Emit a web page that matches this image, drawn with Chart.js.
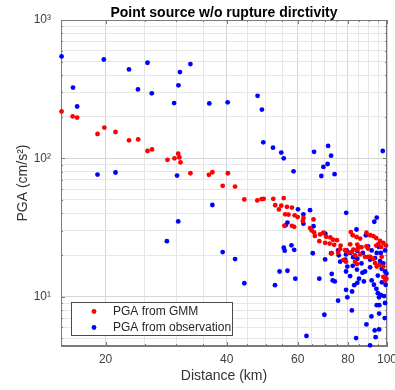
<!DOCTYPE html>
<html>
<head>
<meta charset="utf-8">
<script src="https://cdn.jsdelivr.net/npm/chart.js@4.4.1/dist/chart.umd.min.js"></script>
<style>
  html, body { margin: 0; padding: 0; background: #ffffff; }
  canvas { display: block; }
</style>
</head>
<body>
<canvas id="pga" width="395" height="390"></canvas>
<script>
// PGA predicted by the ground-motion model (GMM)
const gmmDistance = [15.55, 16.57, 17.0, 19.1, 19.86, 21.17, 22.87, 24.1, 25.42, 26.08,
  28.5, 29.66, 30.3, 30.5, 30.69, 32.49, 36.11, 36.84, 40.25, 39.07,
  41.94, 44.22, 47.63, 48.8, 49.4, 52.19, 55.4, 52.78, 54.62, 56.42,
  58.05, 53.9, 55.88, 56.94, 58.98, 60.0, 62.02, 55.6, 58.05, 58.82,
  65.7, 64.4, 65.0, 65.9, 68.23, 70.6, 72.3, 73.4, 75.1, 70.2,
  72.0, 73.9, 76.7, 67.9, 76.47, 78.7, 80.2, 81.0, 82.5, 81.3,
  82.2, 84.0, 85.75, 84.4, 86.4, 88.9, 84.9, 89.7, 81.8, 83.3,
  84.2, 85.75, 88.9, 90.8, 92.5, 94.0, 96.1, 97.9, 99.4, 94.0,
  96.7, 88.2, 89.7, 92.5, 93.4, 95.7, 97.9, 97.0, 94.3, 83.3,
  84.2, 77.9, 79.1, 98.9, 97.9, 99.6, 75.6, 72.9, 66.2, 69.5,
  61.8, 90.8, 95.2];
const gmmPGA = [218, 201, 197, 150, 167, 155, 135, 137, 113, 116,
  97.5, 100, 108, 101.5, 93.6, 78, 76, 79.3, 78, 63.3,
  62.5, 50.5, 49.6, 50.8, 51, 51, 51.6, 45.8, 45.5, 44.6,
  44.1, 42.7, 39.4, 39.2, 38.7, 37.6, 37.1, 32.5, 32.5, 32.0,
  36.2, 31.3, 30.1, 29.2, 28.2, 27.1, 26.8, 25.8, 25.6, 24.5,
  24.2, 23.7, 23.4, 25.2, 22.1, 21.7, 20.8, 23.9, 21.9, 29.3,
  27.8, 27.0, 26.3, 23.8, 22.8, 23.1, 22.7, 22.3, 21.0, 19.9,
  21.8, 20.2, 29.0, 27.8, 27.4, 26.5, 25.3, 24.5, 23.4, 23.4,
  22.9, 19.4, 19.4, 18.8, 17.5, 17.0, 16.5, 19.4, 16.5, 17.9,
  17.2, 18.4, 17.9, 13.1, 13.9, 13.5, 20.8, 20.6, 27.5, 29.0,
  35.3, 19.4, 24.0];

// PGA recorded at the stations
const obsDistance = [15.55, 19.8, 22.87, 25.42, 32.49, 30.6, 16.6, 24.07, 26.05, 30.34,
  17.0, 29.6, 36.2, 40.2, 47.7, 48.9, 19.1, 21.17, 30.1, 36.84,
  30.3, 28.4, 39.07, 41.94, 44.22, 49.29, 52.1, 54.62, 55.4, 58.6,
  65.9, 71.4, 72.64, 71.2, 69.52, 68.7, 74.1, 97.6, 60.1, 62.0,
  64.4, 62.0, 56.6, 56.0, 65.7, 79.2, 94.3, 93.0, 84.0, 88.6,
  70.3, 55.4, 55.7, 57.9, 58.82, 65.4, 70.21, 72.64, 75.6, 79.4,
  81.0, 84.4, 87.1, 89.7, 91.6, 94.3, 98.9, 75.9, 79.1, 78.7,
  82.4, 84.4, 90.8, 96.1, 97.9, 86.4, 76.5, 54.1, 56.6, 59.2,
  67.9, 72.9, 73.3, 79.14, 81.0, 84.2, 88.2, 91.6, 94.9, 98.9,
  99.4, 79.7, 90.8, 52.7, 63.1, 69.9, 75.6, 79.14, 79.7, 81.9,
  81.8, 82.9, 84.4, 83.8, 88.9, 90.8, 91.5, 93.2, 93.7, 95.6,
  95.6, 98.7, 92.8, 94.1, 94.9, 95.55, 96.5, 98.3, 94.3, 95.7,
  98.9, 99.2, 97.1, 74.2, 87.6, 82.2, 86.9, 85.2, 99.7, 97.0,
  95.5, 96.5, 93.4];
const obsPGA = [545, 518, 439, 491, 480, 420, 325, 315, 295, 337,
  237, 251, 249.5, 254, 283, 225, 76.3, 79, 75, 46,
  35, 25.2, 21, 18.7, 12.5, 130.5, 119.5, 110, 100, 80.6,
  111.5, 123, 104.5, 91, 86.7, 74.5, 76.8, 113, 42.8, 39.4,
  42.2, 33.7, 34.3, 32.8, 32.3, 40.4, 37.3, 34.8, 30.6, 27.8,
  28.5, 22.6, 21.5, 23.5, 21.8, 20.6, 18.6, 20.6, 21.6, 21.6,
  20.7, 21.4, 20.7, 23.1, 21.6, 20.7, 21.6, 19.9, 20.2, 18.5,
  19.3, 18.8, 18.5, 18.1, 17.4, 17.4, 17.9, 15.2, 15.4, 13.5,
  13.5, 14.6, 13.1, 15.2, 14.1, 15.7, 15.2, 13.1, 14.2, 15.2,
  13.5, 16.5, 16.3, 12.1, 5.2, 7.4, 9.36, 11.2, 9.9, 10.9,
  7.95, 12.1, 12.6, 5.02, 6.3, 4.45, 7.2, 5.7, 5.1, 5.8,
  7.55, 7.0, 12.2, 11.4, 10.6, 9.9, 10.3, 10.1, 8.68, 8.68,
  9.0, 12.2, 12.7, 12.9, 12.9, 16.7, 14.9, 13.5, 14.7, 15.9,
  22.9, 20.7, 19.0];

// Axis grid positions and the values that carry a label
const distanceGrid = [20, 25, 30, 35, 40, 45, 50, 55, 60, 65, 70, 75, 80, 85, 90, 95, 100];
const distanceTickLabels = [20, 40, 60, 80, 100];
const pgaGrid = [5, 6, 7, 8, 9, 10, 20, 30, 40, 50, 60, 70, 80, 90,
  100, 200, 300, 400, 500, 600, 700, 800, 900, 1000];
const pgaTickValues = [10, 100, 1000];
const pgaTickLabels = ['10\u00B9', '10\u00B2', '10\u00B3'];

const seriesNames = ['PGA from GMM', 'PGA from observation'];
const chartTitle = 'Point source w/o rupture dirctivity';

const FONT = "'Liberation Sans', Arial, Helvetica, sans-serif";
const RED = '#ff0000';
const BLUE = '#0000ff';
const AXIS = '#7a7a7a';

function toPoints(xs, ys) {
  return xs.map((x, i) => ({ x: x, y: ys[i] }));
}

function gridColour(ctx, majors) {
  const v = ctx.tick ? ctx.tick.value : null;
  return majors.includes(v) ? '#d6d6d6' : '#e6e6e6';
}

// White page, title, full axis box, inward tick marks and the legend box
const framePlugin = {
  id: 'frame',
  beforeDraw(chart) {
    const c = chart.ctx;
    c.save();
    c.fillStyle = '#ffffff';
    c.fillRect(0, 0, chart.width, chart.height);
    c.restore();
  },
  beforeDatasetsDraw(chart) {
    const c = chart.ctx;
    const a = chart.chartArea;
    const xs = chart.scales.x;
    const ys = chart.scales.y;
    c.save();
    c.strokeStyle = AXIS;
    c.lineWidth = 1;
    c.strokeRect(a.left + 0.5, a.top + 0.5, a.right - a.left - 1, a.bottom - a.top - 1);
    c.beginPath();
    distanceGrid.forEach(v => {
      const px = Math.round(xs.getPixelForValue(v)) + 0.5;
      const len = distanceTickLabels.includes(v) ? 4 : 2;
      c.moveTo(px, a.bottom); c.lineTo(px, a.bottom - len);
      c.moveTo(px, a.top); c.lineTo(px, a.top + len);
    });
    pgaGrid.forEach(v => {
      const py = Math.round(ys.getPixelForValue(v)) + 0.5;
      const len = pgaTickValues.includes(v) ? 4 : 2;
      c.moveTo(a.left, py); c.lineTo(a.left + len, py);
      c.moveTo(a.right, py); c.lineTo(a.right - len, py);
    });
    c.stroke();
    c.restore();
  },
  afterDraw(chart) {
    const c = chart.ctx;
    const a = chart.chartArea;
    c.save();
    // title
    c.fillStyle = '#000000';
    c.font = 'bold 14px ' + FONT;
    c.textAlign = 'center';
    c.textBaseline = 'alphabetic';
    c.fillText(chartTitle, (a.left + a.right) / 2, 16.5);

    // legend
    const lx = a.left + 10, ly = a.bottom - 44, lw = 161, lh = 33;
    c.fillStyle = '#ffffff';
    c.fillRect(lx, ly, lw, lh);
    c.strokeStyle = '#4a4a4a';
    c.lineWidth = 1;
    c.strokeRect(lx + 0.5, ly + 0.5, lw, lh);
    const colours = [RED, BLUE];
    c.font = '12px ' + FONT;
    c.textAlign = 'left';
    c.textBaseline = 'middle';
    seriesNames.forEach((name, i) => {
      const cy = ly + 9.5 + i * 16;
      c.fillStyle = colours[i];
      c.beginPath();
      c.arc(lx + 23, cy, 2.4, 0, Math.PI * 2);
      c.fill();
      c.fillStyle = '#262626';
      c.fillText(name, lx + 42, cy + 0.5);
    });
    c.restore();
  }
};

new Chart(document.getElementById('pga'), {
  type: 'scatter',
  data: {
    datasets: [
      {
        label: seriesNames[0],
        data: toPoints(gmmDistance, gmmPGA),
        backgroundColor: RED,
        borderWidth: 0,
        pointRadius: 2.4,
        pointHoverRadius: 2.4,
        clip: false
      },
      {
        label: seriesNames[1],
        data: toPoints(obsDistance, obsPGA),
        backgroundColor: BLUE,
        borderWidth: 0,
        pointRadius: 2.4,
        pointHoverRadius: 2.4,
        clip: false
      }
    ]
  },
  options: {
    responsive: false,
    animation: false,
    devicePixelRatio: 1,
    layout: { padding: { top: 20, right: 8, left: 0, bottom: 0 } },
    plugins: {
      legend: { display: false },
      tooltip: { enabled: false },
      title: { display: false }
    },
    scales: {
      x: {
        type: 'logarithmic',
        min: 15.5,
        max: 100,
        afterBuildTicks(scale) {
          scale.ticks = distanceGrid.map(v => ({ value: v }));
        },
        afterFit(scale) {
          scale.height = 44;
          scale.paddingLeft = 0;
          scale.paddingRight = 0;
        },
        ticks: {
          autoSkip: false,
          maxRotation: 0,
          padding: 6,
          color: '#404040',
          font: { family: FONT, size: 12 },
          callback: v => distanceTickLabels.includes(v) ? String(v) : ''
        },
        grid: {
          drawTicks: false,
          color: ctx => gridColour(ctx, distanceTickLabels),
          lineWidth: 1
        },
        border: { display: true, color: AXIS },
        title: {
          display: true,
          text: 'Distance (km)',
          color: '#333333',
          font: { family: FONT, size: 14 },
          padding: { top: 0, bottom: 5.6 }
        }
      },
      y: {
        type: 'logarithmic',
        min: 4.4,
        max: 1000,
        afterBuildTicks(scale) {
          scale.ticks = pgaGrid.map(v => ({ value: v }));
        },
        afterFit(scale) {
          scale.width = 61;
          scale.paddingTop = 0;
          scale.paddingBottom = 0;
        },
        ticks: {
          autoSkip: false,
          padding: 10,
          color: '#404040',
          font: { family: FONT, size: 12 },
          callback: v => {
            const i = pgaTickValues.indexOf(v);
            return i >= 0 ? pgaTickLabels[i] : '';
          }
        },
        grid: {
          drawTicks: false,
          color: ctx => gridColour(ctx, pgaTickValues),
          lineWidth: 1
        },
        border: { display: true, color: AXIS },
        title: {
          display: true,
          text: 'PGA (cm/s\u00B2)',
          color: '#333333',
          font: { family: FONT, size: 14 },
          padding: { top: 15, bottom: 0 }
        }
      }
    }
  },
  plugins: [framePlugin]
});
</script>
</body>
</html>
